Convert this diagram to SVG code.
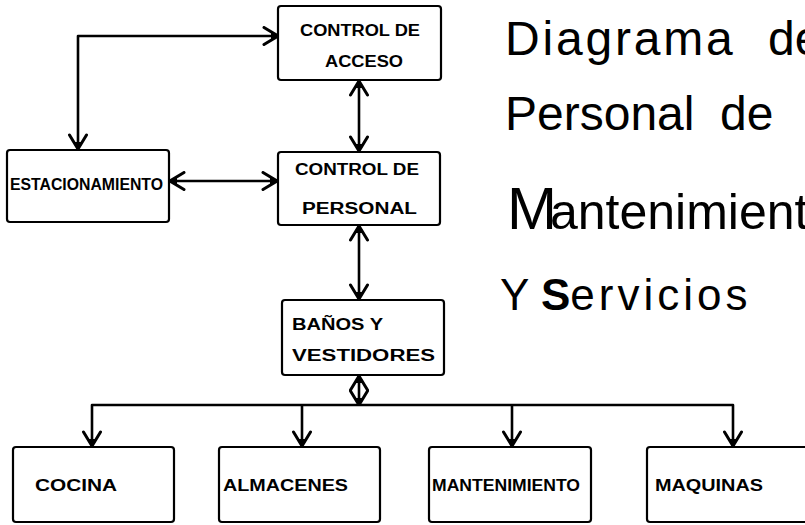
<svg xmlns="http://www.w3.org/2000/svg" width="805" height="525" viewBox="0 0 805 525">
<style>
.box{fill:#fff;stroke:#000;stroke-width:2.2}
.lbl{font-family:"Liberation Sans",Arial,sans-serif;font-size:16px;font-weight:bold;fill:#000}
.title{font-family:"Liberation Sans",Arial,sans-serif;fill:#000}
.con{fill:none;stroke:#000;stroke-width:2.6;stroke-linejoin:round}
</style>
<defs>
<marker id="ah" markerUnits="userSpaceOnUse" viewBox="0 0 18 20" markerWidth="18" markerHeight="20" refX="17" refY="10" orient="auto-start-reverse">
<path d="M3,1.5 L17,10 L3,18.5" fill="none" stroke="#000" stroke-width="3" stroke-linecap="round"/>
<path d="M10,6 L17.5,10 L10,14 Z" fill="#000"/>
</marker>
</defs>
<rect width="805" height="525" fill="#fff"/>
<g id="connectors">
<path class="con" d="M278,36 H78 V149" marker-start="url(#ah)" marker-end="url(#ah)"/>
<path class="con" d="M359,81 V151" marker-start="url(#ah)" marker-end="url(#ah)"/>
<path class="con" d="M170,181 H277" marker-start="url(#ah)" marker-end="url(#ah)"/>
<path class="con" d="M359,226 V299" marker-start="url(#ah)" marker-end="url(#ah)"/>
<path class="con" d="M359,376 V405" marker-start="url(#ah)" marker-end="url(#ah)"/>
<path class="con" d="M92,446 V405 H733 V446" marker-start="url(#ah)" marker-end="url(#ah)"/>
<path class="con" d="M302,405 V446" marker-end="url(#ah)"/>
<path class="con" d="M512,405 V446" marker-end="url(#ah)"/>
</g>
<g id="acceso">
<rect class="box" x="278" y="6" width="163" height="74" rx="3"/>
<text class="lbl" x="300" y="36" textLength="120" lengthAdjust="spacingAndGlyphs">CONTROL DE</text>
<text class="lbl" x="325" y="67" textLength="78" lengthAdjust="spacingAndGlyphs">ACCESO</text>
</g>
<g id="estacionamiento">
<rect class="box" x="7" y="150" width="162" height="72" rx="3"/>
<text class="lbl" x="10" y="190" textLength="153" lengthAdjust="spacingAndGlyphs">ESTACIONAMIENTO</text>
</g>
<g id="personal">
<rect class="box" x="278" y="152" width="162" height="73" rx="3"/>
<text class="lbl" x="295" y="175" textLength="124" lengthAdjust="spacingAndGlyphs">CONTROL DE</text>
<text class="lbl" x="302" y="214" textLength="115" lengthAdjust="spacingAndGlyphs">PERSONAL</text>
</g>
<g id="banos">
<rect class="box" x="282" y="300" width="162" height="75" rx="3"/>
<text class="lbl" x="292" y="330" textLength="91" lengthAdjust="spacingAndGlyphs">BAÑOS  Y</text>
<text class="lbl" x="292" y="361" textLength="143" lengthAdjust="spacingAndGlyphs">VESTIDORES</text>
</g>
<g id="cocina">
<rect class="box" x="13" y="447" width="161" height="75" rx="3"/>
<text class="lbl" x="35" y="491" textLength="82" lengthAdjust="spacingAndGlyphs">COCINA</text>
</g>
<g id="almacenes">
<rect class="box" x="219" y="447" width="161" height="75" rx="3"/>
<text class="lbl" x="223" y="491" textLength="125" lengthAdjust="spacingAndGlyphs">ALMACENES</text>
</g>
<g id="mantenimiento">
<rect class="box" x="429" y="447" width="162" height="75" rx="3"/>
<text class="lbl" x="432" y="491" textLength="148" lengthAdjust="spacingAndGlyphs">MANTENIMIENTO</text>
</g>
<g id="maquinas">
<rect class="box" x="647" y="447" width="162" height="75" rx="3"/>
<text class="lbl" x="655" y="491" textLength="108" lengthAdjust="spacingAndGlyphs">MAQUINAS</text>
</g>
<g id="title">
<text class="title" x="505" y="55" font-size="48"><tspan letter-spacing="2.8">Diagrama</tspan><tspan x="768">de</tspan></text>
<text class="title" x="505" y="130" font-size="48">Personal<tspan x="720">de</tspan></text>
<text class="title" x="507" y="229" font-size="50"><tspan font-size="60" letter-spacing="-7">M</tspan>antenimiento</text>
<text class="title" x="500" y="310" font-size="44">Y<tspan x="541" font-weight="bold">S</tspan><tspan letter-spacing="4">ervicios</tspan></text>
</g>
</svg>
